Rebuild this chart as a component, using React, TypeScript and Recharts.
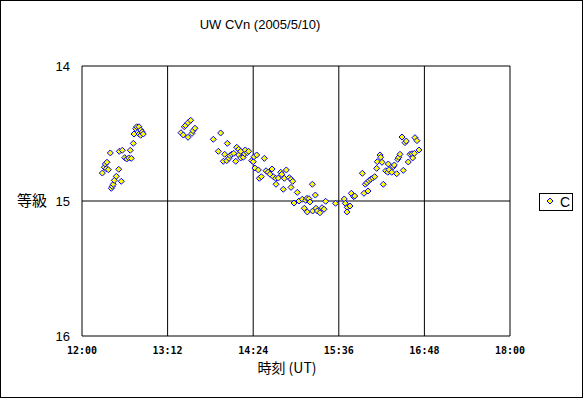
import React from "react"
import {
  ScatterChart,
  Scatter,
  XAxis,
  YAxis,
  CartesianGrid,
  Legend,
} from "recharts"

// observation time (UT, decimal hours)
const times = [
  12.285, 12.313, 12.327, 12.341, 12.35, 12.369, 12.397, 12.411, 12.425, 12.439,
  12.453, 12.481, 12.515, 12.523, 12.551, 12.565, 12.599, 12.627, 12.655, 12.677,
  12.691, 12.719, 12.729, 12.753, 12.767, 12.799, 12.799, 12.823, 12.823, 12.845,
  12.859,
  13.388, 13.42, 13.434, 13.451, 13.486, 13.524, 13.486, 13.542, 13.556, 13.584,
  13.841, 13.911, 13.944, 13.981, 14.0, 14.029, 14.037, 14.061, 14.075, 14.099,
  14.127, 14.155, 14.169, 14.197, 14.197, 14.225, 14.225, 14.261, 14.281, 14.289,
  14.317, 14.337, 14.379, 14.401, 14.411, 14.449, 14.425, 14.472, 14.486, 14.514,
  14.556, 14.58, 14.608, 14.636, 14.664, 14.682, 14.715, 14.72, 14.752, 14.786,
  14.8, 14.822, 14.836, 14.864, 14.906, 14.93, 14.93, 14.954, 14.972, 15.018,
  15.042, 15.088, 15.116, 15.136, 15.154, 15.158, 15.182, 15.196, 15.229, 15.234,
  15.271, 15.28, 15.299, 15.336, 15.364, 15.393, 15.416, 15.554, 15.677, 15.691,
  15.719, 15.715, 15.757, 15.775, 15.809, 15.823, 15.93, 15.953, 15.972, 15.995,
  16.009, 16.023, 16.047, 16.075, 16.103, 16.131, 16.14, 16.178, 16.187, 16.206,
  16.224, 16.258, 16.286, 16.294, 16.304, 16.342, 16.364, 16.378, 16.412, 16.426,
  16.44, 16.458, 16.486, 16.504, 16.528, 16.546, 16.574, 16.598, 16.626, 16.636,
  16.659, 16.668, 16.696, 16.724,
]

// magnitude
const mags = [
  14.793, 14.75, 14.726, 14.761, 14.713, 14.768, 14.644, 14.906, 14.891, 14.876,
  14.847, 14.817, 14.765, 14.632, 14.854, 14.624, 14.679, 14.689, 14.681, 14.624,
  14.684, 14.573, 14.504, 14.464, 14.45, 14.45, 14.504, 14.474, 14.513, 14.489,
  14.504,
  14.494, 14.511, 14.45, 14.441, 14.42, 14.402, 14.528, 14.499, 14.479, 14.461,
  14.543, 14.632, 14.496, 14.706, 14.654, 14.701, 14.573, 14.684, 14.664, 14.654,
  14.647, 14.706, 14.602, 14.617, 14.659, 14.632, 14.681, 14.676, 14.65, 14.622,
  14.642, 14.632, 14.701, 14.709, 14.672, 14.659, 14.756, 14.77, 14.832, 14.82,
  14.684, 14.776, 14.787, 14.802, 14.763, 14.82, 14.832, 14.876, 14.83, 14.787,
  14.802, 14.913, 14.832, 14.77, 14.827, 14.839, 14.899, 14.854, 15.015, 14.936,
  15.0, 14.987, 15.054, 14.995, 14.98, 15.081, 14.983, 15.007, 14.876, 15.074,
  14.956, 15.054, 15.074, 15.087, 15.05, 15.061, 15.002, 15.017, 14.985, 15.017,
  15.047, 15.081, 15.037, 14.943, 14.968, 14.963, 14.795, 14.943, 14.876, 14.864,
  14.926, 14.85, 14.839, 14.83, 14.82, 14.758, 14.709, 14.659, 14.676, 14.713,
  14.876, 14.776, 14.787, 14.726, 14.768, 14.787, 14.746, 14.733, 14.798, 14.691,
  14.676, 14.654, 14.526, 14.773, 14.568, 14.556, 14.711, 14.654, 14.65, 14.681,
  14.647, 14.531, 14.553, 14.622,
]

const xTicks = [12, 13.2, 14.4, 15.6, 16.8, 18]
const yTicks = [14, 15, 16]

const data = times.map((t, i) => ({ t, mag: mags[i] }))

const BLUE = "#0000ff"
const YELLOW = "#ffff00"

function formatTime(h: number) {
  const total = Math.round(h * 60)
  const hh = Math.floor(total / 60)
  const mm = total % 60
  return `${hh}:${mm.toString().padStart(2, "0")}`
}

const Diamond = (props: any) => {
  const { cx, cy } = props
  if (cx == null || cy == null) return null
  const r = 3
  return (
    <polygon
      points={`${cx},${cy - r} ${cx + r},${cy} ${cx},${cy + r} ${cx - r},${cy}`}
      fill={YELLOW}
      stroke={BLUE}
      strokeWidth={1}
    />
  )
}

const LegendBox = () => (
  <div
    style={{
      width: 34,
      height: 18,
      border: "1px solid #000",
      boxSizing: "border-box",
      display: "flex",
      alignItems: "center",
      background: "#fff",
      fontFamily: "Liberation Sans, Arial, sans-serif",
      fontSize: 14,
    }}
  >
    <svg width={16} height={16} style={{ marginLeft: 4 }}>
      <polygon points="6,4 9,7 6,10 3,7" fill={YELLOW} stroke={BLUE} strokeWidth={1} />
    </svg>
    <span>C</span>
  </div>
)

export default function App() {
  return (
    <div
      style={{
        position: "absolute",
        left: 0,
        top: 0,
        width: 583,
        height: 398,
        background: "#fff",
        fontFamily: "Liberation Sans, Arial, sans-serif",
      }}
    >
      <div
        style={{
          position: "absolute",
          left: 0,
          top: 17,
          width: 520,
          textAlign: "center",
          fontSize: 13,
          color: "#000",
        }}
      >
        UW CVn (2005/5/10)
      </div>
      <ScatterChart
        width={583}
        height={398}
        margin={{ top: 66, right: 73, bottom: 0, left: 0 }}
      >
        <CartesianGrid stroke="#000" strokeWidth={1} fill="#fff" />
        <XAxis
          type="number"
          dataKey="t"
          domain={[12, 18]}
          ticks={xTicks}
          tickFormatter={formatTime}
          axisLine={false}
          tickLine={false}
          tickMargin={5}
          height={62}
          tick={{
            fill: "#000",
            fontSize: 10,
            fontWeight: "bold",
            fontFamily: "DejaVu Sans Mono, monospace",
          }}
          label={{
            value: "時刻 (UT)",
            position: "insideTop",
            offset: 27,
            dx: -9,
            fill: "#000",
            fontSize: 14,
            fontFamily: "Noto Sans CJK JP, sans-serif",
          }}
        />
        <YAxis
          type="number"
          dataKey="mag"
          domain={[14, 16]}
          ticks={yTicks}
          reversed
          axisLine={false}
          tickLine={false}
          tickMargin={6}
          width={82}
          tick={{ fill: "#000", fontSize: 13, fontFamily: "Liberation Sans, Arial, sans-serif" }}
          label={{
            value: "等級",
            position: "insideLeft",
            offset: 17,
            fill: "#000",
            fontSize: 15,
            fontFamily: "Noto Sans CJK JP, sans-serif",
          }}
        />
        <Legend
          layout="horizontal"
          verticalAlign="middle"
          align="center"
          content={() => <LegendBox />}
          wrapperStyle={{ left: 539, top: 193, width: 34, height: 18 }}
        />
        <Scatter
          name="C"
          data={data}
          shape={<Diamond />}
          isAnimationActive={false}
        />
      </ScatterChart>
      <div
        style={{
          position: "absolute",
          left: 0,
          top: 0,
          width: 583,
          height: 398,
          border: "1px solid #000",
          boxSizing: "border-box",
          pointerEvents: "none",
        }}
      />
    </div>
  )
}
